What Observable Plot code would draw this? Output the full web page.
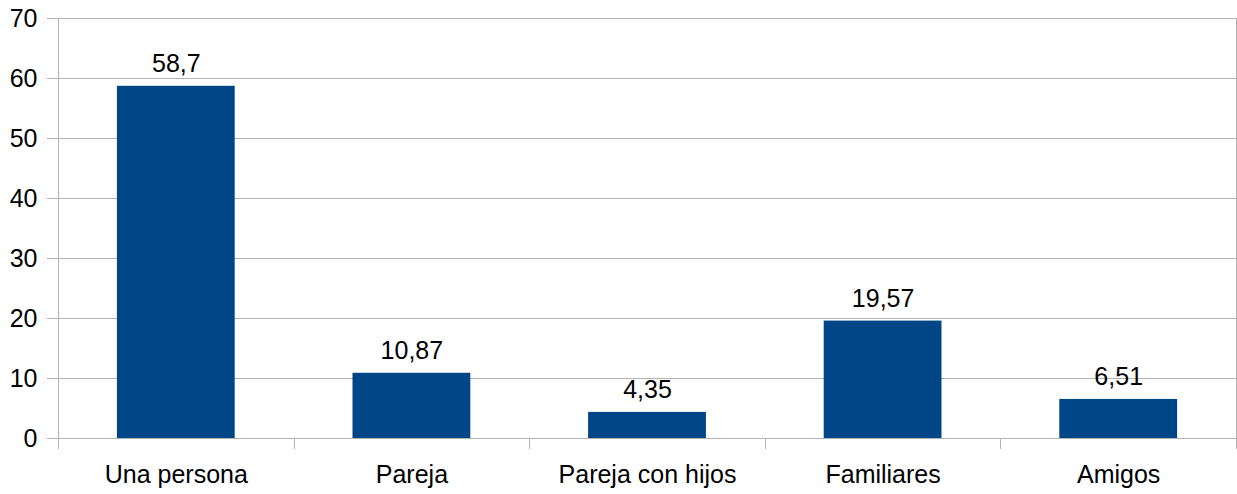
<!DOCTYPE html>
<html><head><meta charset="utf-8">
<script src="https://cdn.jsdelivr.net/npm/d3@7"></script>
<script src="https://cdn.jsdelivr.net/npm/@observablehq/plot@0.6"></script>
<style>body{margin:0;background:#fff} svg{display:block}</style>
</head><body><div id="chart"></div>
<script>
const categories = ["Una persona", "Pareja", "Pareja con hijos", "Familiares", "Amigos"];
const values = [58.7, 10.87, 4.35, 19.57, 6.51];
const yTicks = [0, 10, 20, 30, 40, 50, 60, 70];

const data = categories.map((c, i) => ({category: c, value: values[i], label: String(values[i]).replace(".", ",")}));
const grid = "#b3b3b3";
const barColor = "#004586";

const plot = Plot.plot({
  width: 1237, height: 494,
  marginLeft: 58, marginRight: 1, marginTop: 18, marginBottom: 56,
  style: {fontFamily: "'Liberation Sans', Arial, sans-serif", fontSize: "25px", color: "#000", background: "#fff", overflow: "visible"},
  x: {domain: categories, paddingInner: 0.5, paddingOuter: 0.25, round: false, label: null},
  y: {domain: [0, 70], label: null},
  marks: [
    Plot.ruleY(yTicks, {stroke: grid, strokeWidth: 1}),
    Plot.frame({stroke: grid}),
    Plot.axisY(yTicks, {tickSize: 11, tickPadding: 10, stroke: grid, strokeOpacity: 1, label: null, fill: "#000"}),
    Plot.axisX({tickSize: 0, tickPadding: 27, label: null, fill: "#000"}),
    Plot.barY(data, {x: "category", y: "value", fill: barColor}),
    Plot.text(data, {x: "category", y: "value", text: "label", dy: -14, lineAnchor: "bottom", fill: "#000"})
  ]
});

// category boundary tick marks below the x axis, from the band scale
const xs = plot.scale("x");
const ys = plot.scale("y");
const y0 = ys.apply(0);
const gap = (xs.step - xs.bandwidth) / 2;
const bounds = categories.map(c => xs.apply(c) - gap);
bounds.push(xs.apply(categories[categories.length - 1]) + xs.bandwidth + gap);
const g = d3.select(plot).append("g").attr("stroke", grid).attr("stroke-width", 1);
bounds.forEach(b => {
  const xx = Math.round(b) + 0.5;
  g.append("line").attr("x1", xx).attr("x2", xx).attr("y1", y0).attr("y2", y0 + 11);
});

document.getElementById("chart").appendChild(plot);
</script>
</body></html>
